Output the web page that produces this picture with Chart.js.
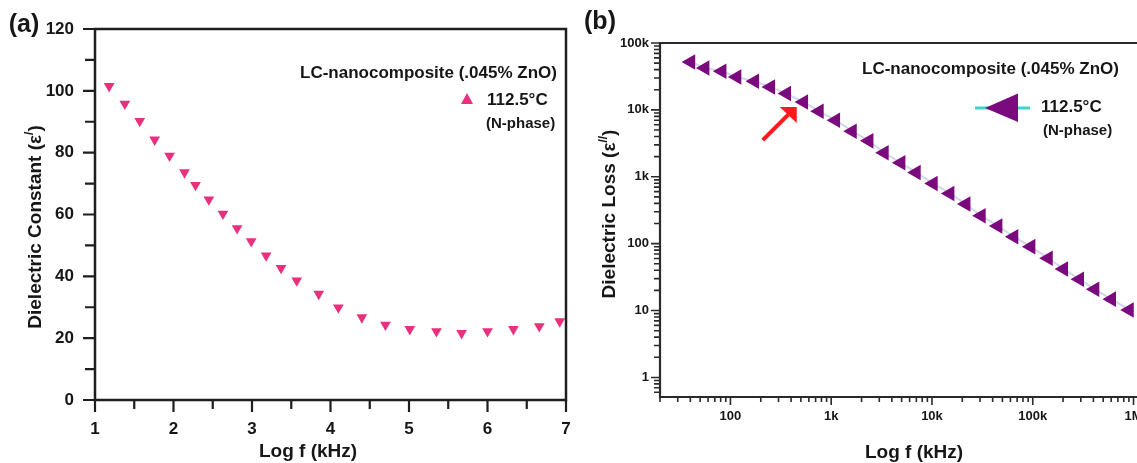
<!DOCTYPE html>
<html lang="en">
<head>
<meta charset="UTF-8">
<title>Dielectric spectra</title>
<style>
  html, body { margin: 0; padding: 0; background: #fff; overflow: hidden; }
  body { width: 1137px; height: 463px; position: relative; }
  canvas { position: absolute; top: 0; }
  #chartA { left: 0; }
  #chartB { left: 580px; }
</style>
</head>
<body>
<canvas id="chartA" width="580" height="463"></canvas>
<canvas id="chartB" width="600" height="463"></canvas>

<script src="https://cdn.jsdelivr.net/npm/chart.js@4.4.0/dist/chart.umd.min.js"></script>
<script>
// (a) dielectric constant against log f
const logFreqA = [1.18, 1.38, 1.57, 1.76, 1.95, 2.14, 2.28, 2.45, 2.63, 2.81, 2.99, 3.18, 3.37,
                  3.57, 3.85, 4.10, 4.40, 4.70, 5.01, 5.35, 5.67, 6.00, 6.33, 6.66, 6.92];
const permittivityA = [101.5, 95.8, 90.2, 84.2, 79.0, 73.6, 69.5, 64.8, 60.2, 55.5, 51.3, 46.7, 42.7,
                       38.6, 34.3, 29.9, 26.7, 24.3, 22.9, 22.2, 21.6, 22.2, 22.9, 23.8, 25.4];
const xTicksA = [1, 2, 3, 4, 5, 6, 7];
const yTicksA = [0, 20, 40, 60, 80, 100, 120];

// (b) dielectric loss against f, log-log
const freqB = [40.3, 55.8, 82.3, 115.7, 173.6, 250, 360, 532, 760, 1105, 1617, 2368, 3357, 4916,
               6970, 10280, 15060, 21720, 30770, 45080, 64920, 95770, 142600, 202200, 291200,
               413000, 604400, 907000];
const lossB = [52000, 42360, 37770, 31090, 26780, 22040, 17540, 13150, 9540, 7010, 4805, 3446,
               2281, 1618, 1161, 795, 563, 391, 262, 183.6, 127, 90.2, 60.4, 41.9, 29.4, 20.8,
               14.8, 10.2];
const decadeLabels = { '0': '1', '1': '10', '2': '100', '3': '1k', '4': '10k', '5': '100k', '6': '1M' };

const seriesLabel = '112.5°C';
const sampleName = 'LC-nanocomposite (.045% ZnO)';
const phaseName = '(N-phase)';

const FONT = '"Liberation Sans", Arial, Helvetica, sans-serif';
const INK = '#161616';
const PINK = '#e8307f';
const PURPLE = '#7a0a7e';

function bold(size) { return 'bold ' + size + 'px ' + FONT; }

// text made of pieces, some raised as superscripts; centred on (x, y)
function drawRich(ctx, parts, x, y, rotate) {
  ctx.save();
  ctx.translate(x, y);
  if (rotate) ctx.rotate(-Math.PI / 2);
  ctx.fillStyle = INK;
  ctx.textAlign = 'left';
  ctx.textBaseline = 'middle';
  let total = 0;
  parts.forEach(p => { ctx.font = p.font; total += ctx.measureText(p.text).width; });
  let cx = -total / 2;
  parts.forEach(p => {
    ctx.font = p.font;
    ctx.fillText(p.text, cx, p.dy || 0);
    cx += ctx.measureText(p.text).width;
  });
  ctx.restore();
}

function text(ctx, str, x, y, size) {
  ctx.font = bold(size);
  ctx.fillStyle = INK;
  ctx.textAlign = 'left';
  ctx.textBaseline = 'middle';
  ctx.fillText(str, x, y);
}

function fillPoly(ctx, pts, color) {
  ctx.beginPath();
  ctx.moveTo(pts[0][0], pts[0][1]);
  for (let i = 1; i < pts.length; i++) ctx.lineTo(pts[i][0], pts[i][1]);
  ctx.closePath();
  ctx.fillStyle = color;
  ctx.fill();
}

function tickMarks(ctx, chart, axis, values, len) {
  const a = chart.chartArea;
  const scale = chart.scales[axis];
  ctx.beginPath();
  values.forEach(v => {
    const p = scale.getPixelForValue(v);
    if (axis === 'x') { ctx.moveTo(p, a.bottom); ctx.lineTo(p, a.bottom + len); }
    else { ctx.moveTo(a.left, p); ctx.lineTo(a.left - len, p); }
  });
  ctx.stroke();
}

function logValues(min, max, major) {
  const out = [];
  for (let e = Math.floor(Math.log10(min)); e <= Math.ceil(Math.log10(max)); e++) {
    for (let m = 1; m <= 9; m++) {
      const v = m * Math.pow(10, e);
      if (v < min || v > max) continue;
      if ((m === 1) === major) out.push(v);
    }
  }
  return out;
}

// keep the plot box where the layout padding puts it
function noScalePadding(s) {
  s.paddingLeft = 0; s.paddingRight = 0; s.paddingTop = 0; s.paddingBottom = 0;
}

const decorA = {
  id: 'decorA',
  afterDraw(chart) {
    const ctx = chart.ctx;
    const a = chart.chartArea;
    ctx.save();
    ctx.strokeStyle = '#1e1e1e';
    ctx.lineWidth = 2.5;
    ctx.strokeRect(a.left, a.top, a.right - a.left, a.bottom - a.top);
    ctx.lineWidth = 2.2;
    tickMarks(ctx, chart, 'x', xTicksA, 12);
    tickMarks(ctx, chart, 'x', xTicksA.slice(0, -1).map(v => v + 0.5), 9);
    tickMarks(ctx, chart, 'y', yTicksA, 12);
    tickMarks(ctx, chart, 'y', yTicksA.slice(0, -1).map(v => v + 10), 10);

    drawRich(ctx, [{ text: '(a)', font: bold(25) }], 24, 25, false);
    drawRich(ctx, [{ text: 'Log f (kHz)', font: bold(19) }], 308, 452, false);
    drawRich(ctx, [
      { text: 'Dielectric Constant (\u03b5', font: bold(19) },
      { text: '/', font: bold(12), dy: -6 },
      { text: ')', font: bold(19) }
    ], 36, 227, true);

    // legend
    text(ctx, sampleName, 300, 73, 17);
    fillPoly(ctx, [[467, 93], [473, 104], [461, 104]], PINK);
    text(ctx, seriesLabel, 487, 100, 17);
    text(ctx, phaseName, 486, 124, 15);
    ctx.restore();
  }
};

const decorB = {
  id: 'decorB',
  beforeDatasetsDraw(chart) {
    const ctx = chart.ctx;
    const a = chart.chartArea;
    const x = chart.scales.x;
    const y = chart.scales.y;
    ctx.save();
    ctx.strokeStyle = '#2a2a2a';
    ctx.lineWidth = 2.2;
    ctx.beginPath();
    ctx.moveTo(a.right, a.top); ctx.lineTo(a.left, a.top);
    ctx.lineTo(a.left, a.bottom); ctx.lineTo(a.right, a.bottom);
    ctx.stroke();
    ctx.lineWidth = 1.6;
    tickMarks(ctx, chart, 'x', logValues(x.min, x.max, true), 8);
    tickMarks(ctx, chart, 'x', logValues(x.min, x.max, false), 5);
    tickMarks(ctx, chart, 'y', logValues(y.min, y.max, true), 9);
    tickMarks(ctx, chart, 'y', logValues(y.min, y.max, false), 6);
    ctx.restore();
  },
  afterDraw(chart) {
    const ctx = chart.ctx;
    const x = chart.scales.x;
    const y = chart.scales.y;
    ctx.save();
    drawRich(ctx, [{ text: '(b)', font: bold(25) }], 20, 22, false);
    drawRich(ctx, [{ text: 'Log f (kHz)', font: bold(19) }], 334, 453, false);
    drawRich(ctx, [
      { text: 'Dielectric Loss (\u03b5', font: bold(19) },
      { text: '//', font: bold(12), dy: -6 },
      { text: ')', font: bold(19) }
    ], 30, 214, true);

    // arrow pointing at the knee of the loss curve
    const tx = x.getPixelForValue(455);
    const ty = y.getPixelForValue(11000);
    ctx.strokeStyle = '#ff1a1a';
    ctx.lineWidth = 4;
    ctx.beginPath();
    ctx.moveTo(tx - 34, ty + 33);
    ctx.lineTo(tx - 6, ty + 5);
    ctx.stroke();
    fillPoly(ctx, [[tx, ty], [tx - 17, ty], [tx, ty + 16]], '#ff1a1a');

    // legend
    text(ctx, sampleName, 282, 69, 17);
    ctx.strokeStyle = '#3fd3c8';
    ctx.lineWidth = 3;
    ctx.beginPath();
    ctx.moveTo(395, 108); ctx.lineTo(450, 108);
    ctx.stroke();
    fillPoly(ctx, [[405, 108], [438, 93.5], [438, 122]], PURPLE);
    text(ctx, seriesLabel, 461, 107, 17);
    text(ctx, phaseName, 463, 131, 15);
    ctx.restore();
  }
};

const tickFont = size => ({ family: FONT, size: size, weight: 'bold' });

new Chart(document.getElementById('chartA'), {
  type: 'scatter',
  data: {
    datasets: [{
      label: seriesLabel,
      data: logFreqA.map((v, i) => ({ x: v, y: permittivityA[i] })),
      pointStyle: 'triangle',
      pointRotation: 180,
      pointRadius: 6.2,
      pointBackgroundColor: PINK,
      pointBorderColor: PINK,
      pointBorderWidth: 0
    }]
  },
  options: {
    responsive: false,
    animation: false,
    events: [],
    layout: { padding: { top: 29, right: 14, left: 0, bottom: 0 } },
    plugins: { legend: { display: false }, tooltip: { enabled: false } },
    scales: {
      x: {
        type: 'linear', min: 1, max: 7,
        afterFit: s => { s.height = 63; noScalePadding(s); },
        afterBuildTicks: s => { s.ticks = xTicksA.map(v => ({ value: v })); },
        grid: { display: false, drawTicks: false },
        border: { display: false },
        ticks: { font: tickFont(17), color: INK, padding: 19, maxRotation: 0, autoSkip: false }
      },
      y: {
        type: 'linear', min: 0, max: 120,
        afterFit: s => { s.width = 95; noScalePadding(s); },
        afterBuildTicks: s => { s.ticks = yTicksA.map(v => ({ value: v })); },
        grid: { display: false, drawTicks: false },
        border: { display: false },
        ticks: { font: tickFont(17), color: INK, padding: 21, autoSkip: false }
      }
    }
  },
  plugins: [decorA]
});

new Chart(document.getElementById('chartB'), {
  type: 'scatter',
  data: {
    datasets: [{
      label: seriesLabel,
      data: freqB.map((v, i) => ({ x: v, y: lossB[i] })),
      showLine: true,
      borderColor: 'rgba(175, 188, 218, 0.6)',
      borderWidth: 2,
      pointStyle: 'triangle',
      pointRotation: 270,
      pointRadius: 9,
      pointBackgroundColor: PURPLE,
      pointBorderColor: PURPLE,
      pointBorderWidth: 0
    }]
  },
  options: {
    responsive: false,
    animation: false,
    events: [],
    layout: { padding: { top: 43, right: 35, left: 0, bottom: 0 } },
    plugins: { legend: { display: false }, tooltip: { enabled: false } },
    scales: {
      x: {
        type: 'logarithmic', min: 20, max: 1.3e6,
        afterFit: s => { s.height = 66; noScalePadding(s); },
        grid: { display: false, drawTicks: false },
        border: { display: false },
        ticks: {
          font: tickFont(13), color: INK, padding: 12, maxRotation: 0, autoSkip: false,
          callback: v => {
            const e = Math.log10(v);
            return Math.abs(e - Math.round(e)) < 1e-9 ? (decadeLabels[String(Math.round(e))] || '') : '';
          }
        }
      },
      y: {
        type: 'logarithmic', min: 0.51, max: 1e5,
        afterFit: s => { s.width = 80; noScalePadding(s); },
        grid: { display: false, drawTicks: false },
        border: { display: false },
        ticks: {
          font: tickFont(13), color: INK, padding: 11, autoSkip: false,
          callback: v => {
            const e = Math.log10(v);
            return Math.abs(e - Math.round(e)) < 1e-9 ? (decadeLabels[String(Math.round(e))] || '') : '';
          }
        }
      }
    }
  },
  plugins: [decorB]
});
</script>
</body>
</html>
